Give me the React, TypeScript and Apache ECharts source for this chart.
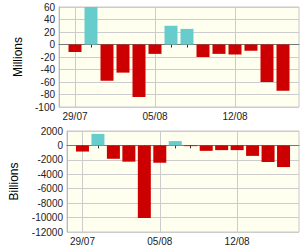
import React, { useEffect, useRef } from "react";
import * as echarts from "echarts";

const dates = ["29/07", "30/07", "31/07", "01/08", "02/08", "05/08", "06/08", "07/08", "08/08", "09/08", "12/08", "13/08", "14/08", "15/08"];
const shownLabels = ["29/07", "05/08", "12/08"];
const millions = [-12, 60, -58, -45, -84, -15, 30, 25, -20, -15, -16, -10, -60, -74];
const billions = [-850, 1600, -1850, -2250, -10050, -2400, 600, -100, -750, -650, -650, -1450, -2300, -3000];

const RED = "#cc0000";
const CYAN = "#66cccc";
const FONT = "Liberation Sans";

export default function App() {
  const ref = useRef<HTMLDivElement>(null);
  useEffect(() => {
    if (!ref.current) return;
    const chart = echarts.init(ref.current, undefined, { renderer: "svg" });
    const cats = ["", ...dates, " "];
    const isShown = (_i: number, v: string) => shownLabels.includes(v);
    const xAxis = (gridIndex: number) => ({
      type: "category",
      gridIndex,
      data: cats,
      boundaryGap: false,
      axisLine: { lineStyle: { color: "#777" } },
      axisTick: { show: true, interval: (i: number) => i > 0 && i < cats.length - 1, length: 3, lineStyle: { color: "#333" } },
      axisLabel: { interval: (i: number, v: string) => isShown(i, v), color: "#222", fontFamily: FONT, fontSize: 10, margin: 4 },
      splitLine: { show: true, interval: (i: number, v: string) => isShown(i, v), lineStyle: { color: "#ccc" } },
    });
    const yAxis = (gridIndex: number, min: number, max: number, interval: number, name: string, nameGap: number) => ({
      type: "value",
      gridIndex,
      min,
      max,
      interval,
      name,
      nameLocation: "middle",
      nameGap,
      nameTextStyle: { color: "#000", fontFamily: FONT, fontSize: 12 },
      axisLine: { show: true, lineStyle: { color: "#bbb" } },
      axisTick: { show: false },
      axisLabel: { color: "#222", fontFamily: FONT, fontSize: 10, margin: 4, formatter: (v: number) => String(v) },
      splitLine: { show: true, lineStyle: { color: "#ccc" } },
    });
    const toData = (vals: number[]) => [null, ...vals.map((v) => ({ value: v, itemStyle: { color: v >= 0 ? CYAN : RED } })), null];
    chart.setOption({
      animation: false,
      grid: [
        { left: 59, top: 7, width: 240, height: 100, show: true, backgroundColor: "#fffff0", borderColor: "#c8c8c8", borderWidth: 1 },
        { left: 59, top: 131, width: 240, height: 101, show: true, backgroundColor: "#fffff0", borderColor: "#c8c8c8", borderWidth: 1 },
      ],
      xAxis: [xAxis(0), xAxis(1)],
      yAxis: [yAxis(0, -100, 60, 20, "Millions", 35), yAxis(1, -12000, 2000, 2000, "Billions", 47)],
      series: [
        { type: "bar", xAxisIndex: 0, yAxisIndex: 0, data: toData(millions), barWidth: 13 },
        { type: "bar", xAxisIndex: 1, yAxisIndex: 1, data: toData(billions), barWidth: 13 },
      ],
    });
    return () => chart.dispose();
  }, []);
  return <div ref={ref} style={{ width: 300, height: 250, position: "absolute", left: 0, top: 0 }} />;
}
